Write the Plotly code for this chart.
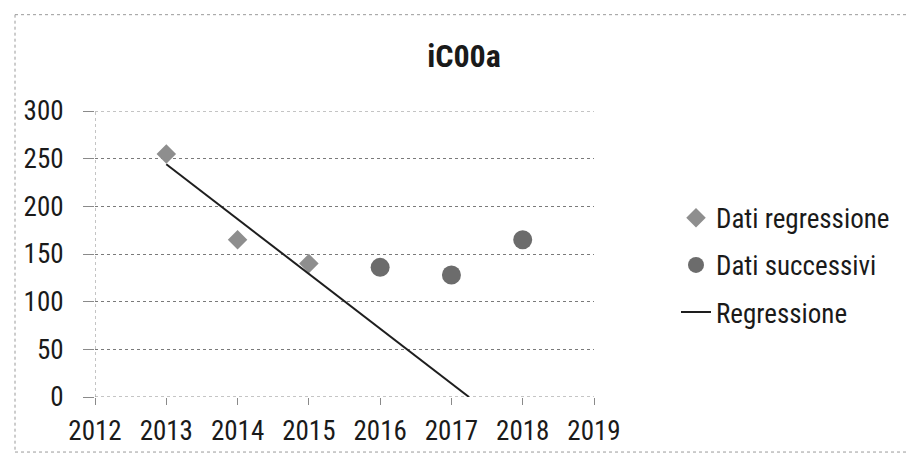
import numpy as np
import plotly.graph_objects as go

# Data
title_text = "iC00a"
reg_years = [2013, 2014, 2015]
reg_values = [255, 165, 140]
next_years = [2016, 2017, 2018]
next_values = [136, 128, 165]
x_ticks = [2012, 2013, 2014, 2015, 2016, 2017, 2018, 2019]
y_ticks = [0, 50, 100, 150, 200, 250, 300]

# Linear regression on the first three points, drawn until it reaches zero
slope, intercept = np.polyfit(reg_years, reg_values, 1)
x_zero = -intercept / slope
line_x = [reg_years[0], x_zero]
line_y = [slope * reg_years[0] + intercept, 0]

FONT = "Liberation Sans Narrow, Arial Narrow, Roboto Condensed, sans-serif"
W, H = 908, 459
L, R, T, B = 95, 314, 111, 57

fig = go.Figure()
fig.add_trace(go.Scatter(
    x=reg_years, y=reg_values, mode="markers", name="Dati regressione",
    legendgroup="a",
    marker=dict(symbol="diamond", size=15, color="#8e8e8e",
                line=dict(width=0)),
))
fig.add_trace(go.Scatter(
    x=next_years, y=next_values, mode="markers", name="Dati successivi",
    legendgroup="b",
    marker=dict(symbol="circle", size=19, color="#6c6c6c",
                line=dict(width=0)),
))
fig.add_trace(go.Scatter(
    x=line_x, y=line_y, mode="lines", name="Regressione",
    legendgroup="c",
    line=dict(color="#1e1e1e", width=2),
))

pw = W - L - R
ph = H - T - B
def px_x(v):
    return (v - L) / pw
def px_y(v):
    return (H - B - v) / ph

# Dotted axis lines and the top gridline
axis_style = dict(color="#8a8a8a", width=1, dash="dot")
fig.add_shape(type="line", xref="paper", yref="y", x0=0, x1=1,
              y0=y_ticks[0], y1=y_ticks[0], line=axis_style, layer="below")
fig.add_shape(type="line", xref="paper", yref="y", x0=0, x1=1,
              y0=y_ticks[-1], y1=y_ticks[-1], line=axis_style, layer="below")
fig.add_shape(type="line", xref="x", yref="paper", x0=x_ticks[0], x1=x_ticks[0],
              y0=0, y1=1, line=axis_style, layer="below")

# Outer chart border (top, left, bottom)
border = dict(color="#9a9a9a", width=1, dash="dot")
fig.add_shape(type="line", xref="paper", yref="paper",
              x0=px_x(15), x1=px_x(908), y0=px_y(13), y1=px_y(13), line=border)
fig.add_shape(type="line", xref="paper", yref="paper",
              x0=px_x(15), x1=px_x(15), y0=px_y(13), y1=px_y(458), line=border)
fig.add_shape(type="line", xref="paper", yref="paper",
              x0=px_x(15), x1=px_x(908), y0=px_y(458), y1=px_y(458), line=border)

fig.update_layout(
    width=W, height=H,
    margin=dict(l=L, r=R, t=T, b=B),
    paper_bgcolor="white", plot_bgcolor="white",
    font=dict(family=FONT, size=27, color="#1a1a1a"),
    title=dict(text="<b>" + title_text + "</b>", x=464 / W, xanchor="center",
               y=1 - 56 / H, yanchor="middle",
               font=dict(family=FONT, size=32, color="#1a1a1a")),
    showlegend=True,
    legend=dict(x=px_x(676), xanchor="left", y=px_y(268), yanchor="middle",
                font=dict(family=FONT, size=27, color="#1a1a1a"),
                traceorder="grouped", tracegroupgap=9,
                bgcolor="rgba(0,0,0,0)"),
    xaxis=dict(range=[2012, 2019], tickvals=x_ticks, ticktext=[str(v) for v in x_ticks],
               showgrid=False, zeroline=False, showline=False,
               ticks="outside", ticklen=7, tickcolor="#8a8a8a", tickwidth=1,
               ticklabelstandoff=3),
    yaxis=dict(range=[0, 300], tickvals=y_ticks,
               showgrid=True, gridcolor="#7a7a7a", gridwidth=1, griddash="dot",
               zeroline=False, showline=False,
               ticks="outside", ticklen=11, tickcolor="#8a8a8a", tickwidth=1,
               ticklabelstandoff=14),
)

fig.write_html("out.html")
